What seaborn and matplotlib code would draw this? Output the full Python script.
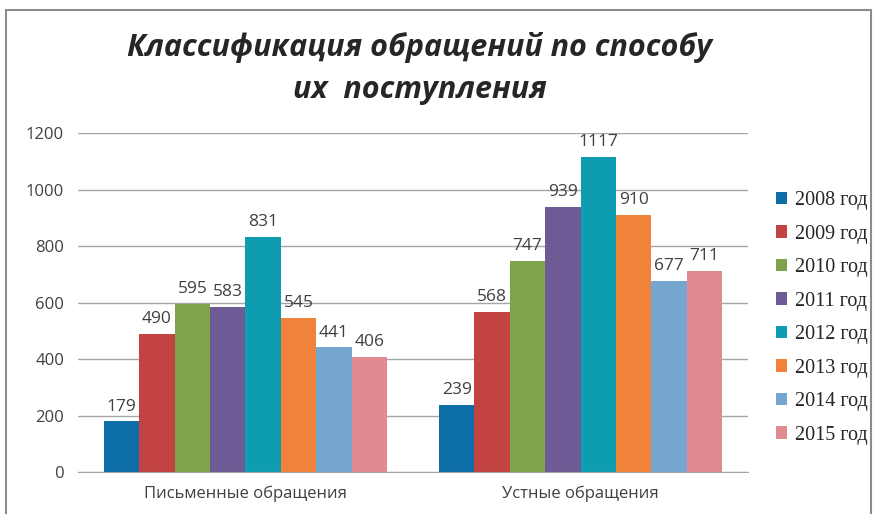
import pandas as pd
import numpy as np
import matplotlib.pyplot as plt
import seaborn as sns
from matplotlib.patches import Rectangle

# data
categories = ["Письменные обращения", "Устные обращения"]
years = ["2008 год", "2009 год", "2010 год", "2011 год",
         "2012 год", "2013 год", "2014 год", "2015 год"]
written = [179, 490, 595, 583, 831, 545, 441, 406]
oral = [239, 568, 747, 939, 1117, 910, 677, 711]
colors = ["#0E6EA8", "#C34242", "#7FA34B", "#6E5A94",
          "#0E9DB0", "#F0823A", "#74A6CF", "#E18A92"]

rows = []
for i, y in enumerate(years):
    rows.append({"cat": categories[0], "year": y, "val": written[i]})
    rows.append({"cat": categories[1], "year": y, "val": oral[i]})
df = pd.DataFrame(rows)

sns.set_style("white")
plt.rcParams['font.family'] = ['Open Sans', 'DejaVu Sans']

fig = plt.figure(figsize=(8.78, 5.14), dpi=100)
ax = fig.add_axes([0.0888, 0.0817, 0.7632, 0.6593])

sns.barplot(data=df, x="cat", y="val", hue="year", palette=colors,
            width=0.845, gap=0, ax=ax, legend=True, saturation=1,
            errorbar=None, linewidth=0)

for cont in ax.containers:
    ax.bar_label(cont, padding=5, fontsize=12.5, color="#404040")

ax.set_ylim(0, 1200)
ax.set_yticks(range(0, 1201, 200))
ax.yaxis.grid(True, color="#A6A6A6", linewidth=1)
ax.set_axisbelow(True)
for s in ["left", "right", "top"]:
    ax.spines[s].set_visible(False)
ax.spines["bottom"].set_color("#A6A6A6")
ax.set_xlabel("")
ax.set_ylabel("")
ax.tick_params(axis="both", length=0, labelsize=12, labelcolor="#404040", pad=10)

leg = ax.legend(loc="center left", bbox_to_anchor=(1.015, 0.455), frameon=False,
                prop={"family": "Liberation Serif", "size": 14.5},
                handlelength=0.55, handleheight=0.55, handletextpad=0.4,
                labelspacing=0.72)

fig.text(0.478, 0.907, "Классификация обращений по способу",
         ha="center", va="center", fontsize=22, fontweight="bold",
         fontstyle="italic", family="Open Sans")
fig.text(0.478, 0.825, "их  поступления",
         ha="center", va="center", fontsize=22, fontweight="bold",
         fontstyle="italic", family="Open Sans")

# chart frame
fig.patches.append(Rectangle((0.007, -0.05), 0.985, 1.03, transform=fig.transFigure,
                             fill=False, edgecolor="#8C8C8C", linewidth=1.5))

fig.savefig("out.png", dpi=100)
